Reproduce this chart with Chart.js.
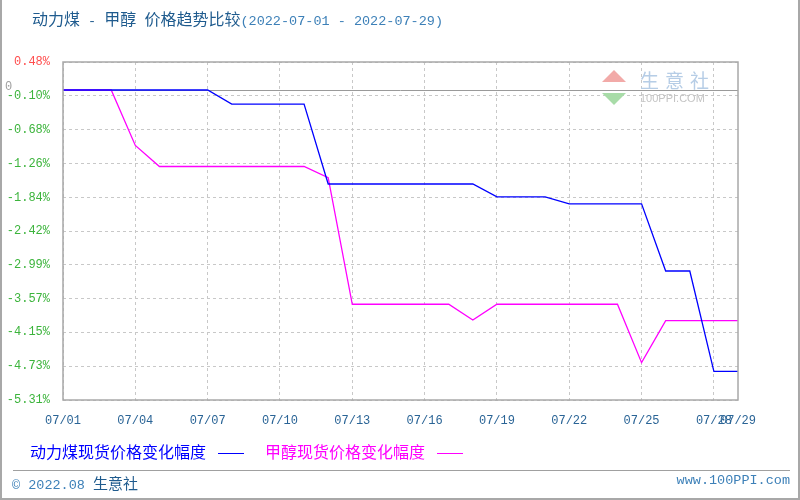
<!DOCTYPE html>
<html>
<head>
<meta charset="utf-8">
<script src="https://cdn.jsdelivr.net/npm/chart.js@4.4.0/dist/chart.umd.min.js"></script>
<style>
  body { margin: 0; background: #fff; }
  #wrap { position: relative; width: 800px; height: 500px; overflow: hidden; font-family: "Noto Sans CJK SC", sans-serif; }
  #frame { position: absolute; left: 0; top: 0; width: 800px; height: 500px; box-sizing: border-box;
           border-left: 2px solid #a8a8a8; border-right: 2px solid #a8a8a8; border-bottom: 2px solid #a8a8a8; pointer-events: none; }
  #title { position: absolute; left: 32px; top: 6px; font-size: 16px; color: #1f5b8e; white-space: pre; }
  #title .m { font-family: "Liberation Mono", monospace; font-size: 13.5px; }
  #title .range { font-family: "Liberation Mono", monospace; font-size: 13.5px; color: #3d80b8; }
  #legend { position: absolute; left: 30px; top: 439px; font-size: 16px; white-space: nowrap; }
  #legend .item { display: inline-block; margin-right: 21px; }
  #legend .swatch { display: inline-block; width: 26px; height: 0; vertical-align: middle; margin-left: 12px; }
  #sep { position: absolute; left: 13px; top: 470px; width: 777px; border-top: 1px solid #a0a0a0; }
  #copy { position: absolute; left: 12px; top: 472px; font-size: 15px; color: #1f5b8e; white-space: pre; }
  #copy .num { font-family: "Liberation Mono", monospace; font-size: 13.5px; color: #3d80b8; }
  #site { position: absolute; right: 10px; top: 473px; font-family: "Liberation Mono", monospace; font-size: 13.5px; color: #3d80b8; }
  #wm1 { position: absolute; left: 640px; top: 66px; font-size: 19px; letter-spacing: 6px; color: #b6cde6; }
  #wm2 { position: absolute; left: 640px; top: 92px; font-family: "Liberation Sans", sans-serif; font-size: 11px; color: #c4c4c4; }
  #tri1 { position: absolute; left: 602px; top: 70px; width: 0; height: 0; border-left: 12px solid transparent; border-right: 12px solid transparent; border-bottom: 12px solid #f2aaa8; }
  #tri2 { position: absolute; left: 602px; top: 93px; width: 0; height: 0; border-left: 12px solid transparent; border-right: 12px solid transparent; border-top: 12px solid #a8dca8; }
</style>
</head>
<body>
<div id="wrap">
  <canvas id="chart" width="800" height="500"></canvas>
  <div id="tri1"></div><div id="tri2"></div>
  <div id="wm1">生意社</div>
  <div id="wm2">100PPI.COM</div>
  <div id="title">动力煤<span class="m"> - </span>甲醇<span class="m"> </span>价格趋势比较<span class="range">(2022-07-01 - 2022-07-29)</span></div>
  <div id="legend"></div>
  <div id="sep"></div>
  <div id="copy"><span class="num">© 2022.08 </span>生意社</div>
  <div id="site">www.100PPI.com</div>
  <div id="frame"></div>
</div>
<script>
const dates = [
  "07/01", "07/02", "07/03", "07/04", "07/05", "07/06", "07/07", "07/08", "07/09", "07/10",
  "07/11", "07/12", "07/13", "07/14", "07/15", "07/16", "07/17", "07/18", "07/19", "07/20",
  "07/21", "07/22", "07/23", "07/24", "07/25", "07/26", "07/27", "07/28", "07/29"
];

// 动力煤 change (%)
const coal = [
  0, 0, 0, 0, 0, 0, 0, -0.24, -0.24, -0.24,
  -0.24, -1.61, -1.61, -1.61, -1.61, -1.61, -1.61, -1.61, -1.83, -1.83,
  -1.83, -1.95, -1.95, -1.95, -1.95, -3.10, -3.10, -4.82, -4.82
];

// 甲醇 change (%)
const methanol = [
  0, 0, 0, -0.95, -1.31, -1.31, -1.31, -1.31, -1.31, -1.31,
  -1.31, -1.50, -3.67, -3.67, -3.67, -3.67, -3.67, -3.94, -3.67, -3.67,
  -3.67, -3.67, -3.67, -3.67, -4.67, -3.95, -3.95, -3.95, -3.95
];

const yTicks = [0.48, -0.10, -0.68, -1.26, -1.84, -2.42, -2.99, -3.57, -4.15, -4.73, -5.31];

const seriesNames = ["动力煤现货价格变化幅度", "甲醇现货价格变化幅度"];
const seriesColors = ["#0000ff", "#ff00ff"];

const gridColor = "#c8c8c8";
const monoFont = { family: "'Liberation Mono', monospace", size: 12 };

// zero line, "0" marker and plot frame
const extras = {
  id: "extras",
  beforeDatasetsDraw(chart) {
    const { ctx, chartArea: a, scales } = chart;
    const y0 = Math.round(scales.y.getPixelForValue(0)) + 0.5;
    ctx.save();
    ctx.strokeStyle = "#9a9a9a";
    ctx.lineWidth = 1;
    ctx.beginPath();
    ctx.moveTo(a.left, y0);
    ctx.lineTo(a.right, y0);
    ctx.stroke();
    ctx.fillStyle = "#a0a0a0";
    ctx.font = "12px 'Liberation Mono', monospace";
    ctx.textBaseline = "bottom";
    ctx.fillText("0", 5, y0 + 2);
    ctx.restore();
  },
  afterDraw(chart) {
    const { ctx, chartArea: a } = chart;
    ctx.save();
    ctx.strokeStyle = "#a8a8a8";
    ctx.lineWidth = 1.5;
    ctx.strokeRect(a.left, a.top, a.right - a.left, a.bottom - a.top);
    ctx.restore();
  }
};

const chart = new Chart(document.getElementById("chart"), {
  type: "line",
  data: {
    labels: dates,
    datasets: [
      { label: seriesNames[0], data: coal, borderColor: seriesColors[0], borderWidth: 1.3, pointRadius: 0, tension: 0 },
      { label: seriesNames[1], data: methanol, borderColor: seriesColors[1], borderWidth: 1.3, pointRadius: 0, tension: 0 }
    ]
  },
  options: {
    responsive: false,
    animation: false,
    layout: { padding: { left: 0, right: 62, top: 62, bottom: 70 } },
    plugins: { legend: { display: false }, tooltip: { enabled: false } },
    scales: {
      x: {
        type: "category",
        offset: false,
        afterFit: (s) => { s.height = 30; },
        border: { display: false, dash: [3, 3] },
        grid: {
          drawTicks: false,
          color: (c) => (c.index % 3 === 0 ? gridColor : "rgba(0,0,0,0)")
        },
        ticks: {
          autoSkip: false,
          maxRotation: 0,
          padding: 14,
          color: "#2a6496",
          font: monoFont,
          callback: (v, i) => (i % 3 === 0 || i === dates.length - 1 ? dates[i] : "")
        }
      },
      y: {
        min: -5.31,
        max: 0.48,
        afterFit: (s) => { s.width = 63; },
        afterBuildTicks: (s) => { s.ticks = yTicks.map((v) => ({ value: v })); },
        border: { display: false, dash: [3, 3] },
        grid: { drawTicks: false, color: gridColor },
        ticks: {
          padding: 13,
          font: monoFont,
          color: (c) => (c.tick && c.tick.value > 0 ? "#ff4d4d" : "#3cb43c"),
          callback: (v) => v.toFixed(2) + "%"
        }
      }
    }
  },
  plugins: [extras]
});

// legend: text followed by a line sample
const legend = document.getElementById("legend");
chart.data.datasets.forEach((ds) => {
  const item = document.createElement("span");
  item.className = "item";
  item.style.color = ds.borderColor;
  item.textContent = ds.label;
  const sw = document.createElement("span");
  sw.className = "swatch";
  sw.style.borderTop = "1.5px solid " + ds.borderColor;
  item.appendChild(sw);
  legend.appendChild(item);
});
</script>
</body>
</html>
